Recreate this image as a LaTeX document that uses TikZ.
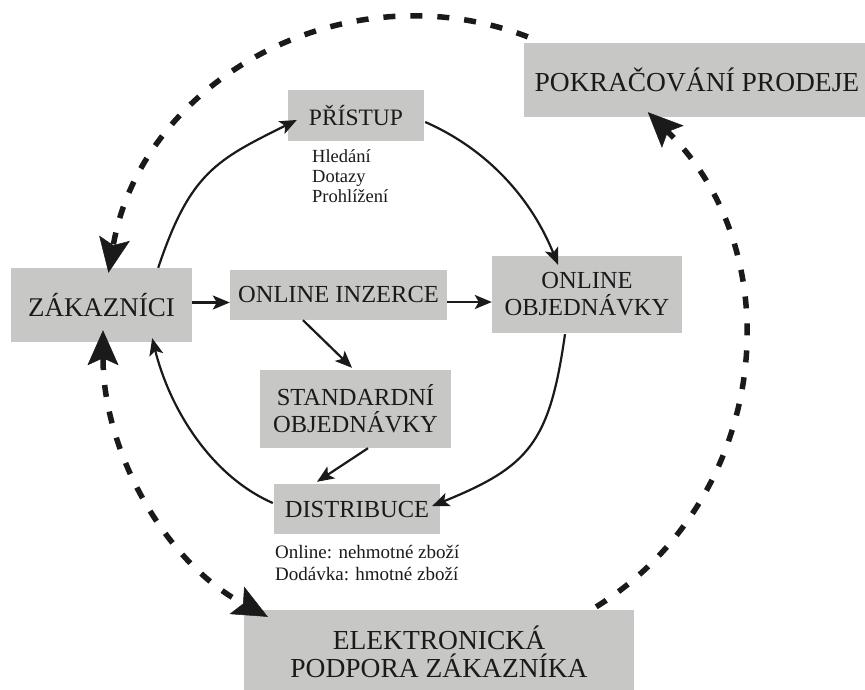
\documentclass[tikz,border=0pt]{standalone}
\usepackage{fontspec}
\setmainfont{Liberation Serif}
\usetikzlibrary{arrows.meta}
\definecolor{boxgray}{RGB}{199,199,198}
\definecolor{ink}{RGB}{26,26,26}
\begin{document}
\begin{tikzpicture}[x=1pt,y=-1pt,
  box/.style={fill=boxgray,draw=none,inner sep=0pt,text=ink,align=center},
  bigtxt/.style={font=\fontsize{27.5}{28}\selectfont},
  midtxt/.style={font=\fontsize{24.5}{27}\selectfont},
  notetxt/.style={inner sep=0pt,text=ink,align=left},
  arr/.style={line width=2.2pt,draw=ink,-{Stealth[length=17pt,width=14pt,inset=4pt]}},
  darr/.style={line width=5.5pt,draw=ink,dash pattern=on 12pt off 15pt,-{Stealth[length=35pt,width=31pt,inset=7pt,line width=0.5pt]}},
  ddarr/.style={line width=5.5pt,draw=ink,dash pattern=on 12pt off 15pt,{Stealth[length=35pt,width=31pt,inset=7pt,line width=0.5pt]}-{Stealth[length=35pt,width=31pt,inset=7pt,line width=0.5pt]}}
]
\useasboundingbox (0,0) rectangle (865,689);
\fill[white] (0,0) rectangle (865,689);

% boxes
\node[box,font=\fontsize{27}{28}\selectfont,minimum width=181pt,minimum height=74pt] (zak) at (101.5,305) {ZÁKAZNÍCI};
\node[box,font=\fontsize{23.5}{26}\selectfont,minimum width=136pt,minimum height=51pt] (pri) at (356,115.5) {PŘÍSTUP};
\node[box,midtxt,minimum width=217pt,minimum height=50pt] (inz) at (338.5,295) {ONLINE INZERCE};
\node[box,bigtxt,minimum width=346pt,minimum height=74pt] (pok) at (697,80) {POKRAČOVÁNÍ PRODEJE};
\node[box,midtxt,minimum width=190pt,minimum height=77pt] (obj) at (587,294.5) {ONLINE\\OBJEDNÁVKY};
\node[box,midtxt,minimum width=191pt,minimum height=78pt] (std) at (355.5,409) {STANDARDNÍ\\OBJEDNÁVKY};
\node[box,midtxt,minimum width=166pt,minimum height=50pt] (dis) at (357,509) {DISTRIBUCE};
\node[box,bigtxt,minimum width=390pt,minimum height=84pt] (ele) at (439,652) {ELEKTRONICKÁ\\PODPORA ZÁKAZNÍKA};

% notes
\node[notetxt,font=\fontsize{18.5}{20}\selectfont,anchor=north west] (srch) at (312,149.5) {Hledání\\Dotazy\\Prohlížení};
\node[notetxt,font=\fontsize{19}{22}\selectfont,anchor=north west] (deliv) at (275,545) {Online: nehmotné zboží\\Dodávka: hmotné zboží};

% solid connectors
\draw[arr] ([shift={(-34,0)}]zak.north east) .. controls (190,173) and (216,160) .. ([shift={(9,4.5)}]pri.west);
\draw[arr] ([shift={(1,6.5)}]pri.east) .. controls (489,150) and (532,200) .. ([shift={(-29,9)}]obj.north);
\draw[arr] ([shift={(-22,1)}]obj.south) .. controls (549.5,443) and (529,466.6) .. ([shift={(-8,-3)}]dis.east);
\draw[arr] ([shift={(-1,-6)}]dis.west) .. controls (209,475) and (169,406) .. ([shift={(-40,-4)}]zak.south east);
\coordinate (h1) at ([shift={(0,-2.5)}]zak.east);
\draw[arr] (h1) -- (h1 -| inz.west);
\coordinate (h2) at ([shift={(0,7)}]inz.east);
\draw[arr] (h2) -- (h2 -| obj.west);
\draw[arr] ([shift={(-35.5,0)}]inz.south) -- ([shift={(-3.5,-2)}]std.north);
\draw[arr] ([shift={(12.5,0)}]std.south) -- ([shift={(-40,-2)}]dis.north);

% dashed connectors
\draw[darr] ([shift={(4,-6)}]pok.north west) .. controls (345,-33) and (142,80) .. ([shift={(7,5)}]zak.north);
\draw[darr] ([shift={(-38,-3)}]ele.north east) .. controls (769.5,499) and (794,255.6) .. ([shift={(124,-5)}]pok.south west);
\draw[ddarr] ([shift={(1.5,-12)}]zak.south) .. controls (103,449) and (163,561) .. ([shift={(24,7)}]ele.north west);
\end{tikzpicture}
\end{document}
